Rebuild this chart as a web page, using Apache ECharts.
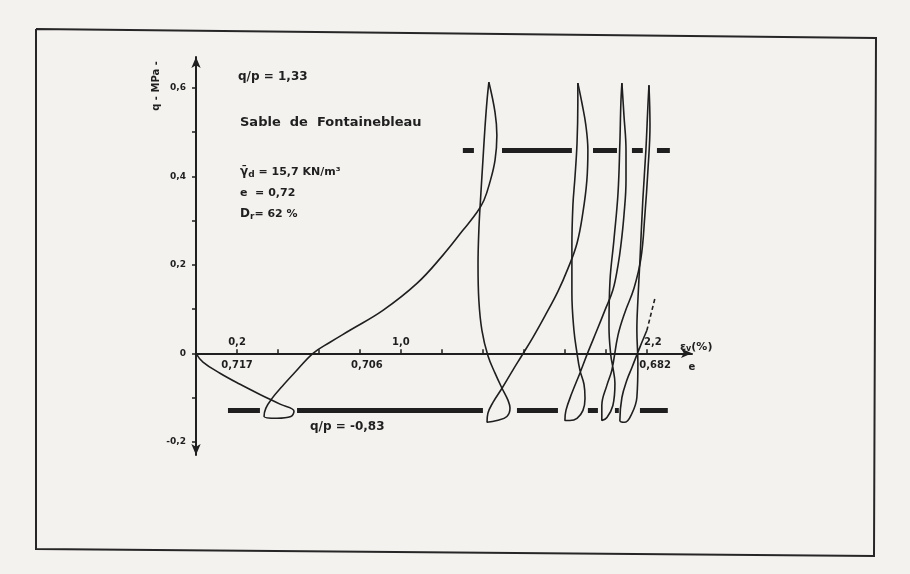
<!DOCTYPE html>
<html>
<head>
<meta charset="utf-8">
<script src="https://cdn.jsdelivr.net/npm/echarts@6/dist/echarts.min.js"></script>
<style>
  html, body { margin: 0; padding: 0; background: #f3f2ef; }
  #chart { width: 910px; height: 574px; }
</style>
</head>
<body>
<div id="chart"></div>
<script>
// Cyclic triaxial test on Fontainebleau sand: deviator stress q (MPa)
// against cumulative volumetric strain εv (%). Each branch runs from one
// compression peak to the next, through the extension trough in between.
const branch1 = [
  [0, 0], [0.034, -0.020], [0.117, -0.045], [0.215, -0.070], [0.312, -0.093],
  [0.410, -0.115], [0.478, -0.131], [0.463, -0.143], [0.395, -0.147], [0.332, -0.143],
  [0.341, -0.124], [0.371, -0.102], [0.420, -0.075], [0.483, -0.043], [0.571, 0.000],
  [0.654, 0.025], [0.751, 0.052], [0.912, 0.097], [1.078, 0.158], [1.205, 0.222],
  [1.302, 0.278], [1.371, 0.319], [1.405, 0.346], [1.434, 0.387], [1.459, 0.437],
  [1.468, 0.493], [1.459, 0.545], [1.429, 0.613]
];
const branch2 = [
  [1.429, 0.613], [1.420, 0.572], [1.410, 0.511], [1.400, 0.437], [1.390, 0.362],
  [1.380, 0.278], [1.376, 0.199], [1.380, 0.120], [1.395, 0.052], [1.424, -0.005],
  [1.459, -0.045], [1.493, -0.079], [1.522, -0.106], [1.532, -0.124], [1.517, -0.143],
  [1.468, -0.152], [1.420, -0.156], [1.424, -0.136], [1.449, -0.111], [1.493, -0.079],
  [1.546, -0.038], [1.590, -0.005], [1.644, 0.036], [1.702, 0.084], [1.766, 0.140],
  [1.815, 0.192], [1.859, 0.249], [1.888, 0.319], [1.907, 0.391], [1.912, 0.459],
  [1.902, 0.516], [1.883, 0.566], [1.863, 0.611]
];
const branch3 = [
  [1.863, 0.611], [1.863, 0.566], [1.859, 0.475], [1.849, 0.398], [1.839, 0.335],
  [1.834, 0.240], [1.834, 0.136], [1.844, 0.052], [1.859, 0.000], [1.873, -0.038],
  [1.893, -0.070], [1.898, -0.102], [1.888, -0.129], [1.859, -0.147], [1.824, -0.152],
  [1.800, -0.152], [1.805, -0.129], [1.834, -0.090], [1.873, -0.045], [1.912, 0.002],
  [1.956, 0.052], [1.995, 0.097], [2.034, 0.143], [2.059, 0.199], [2.073, 0.244],
  [2.088, 0.312], [2.098, 0.391], [2.098, 0.459], [2.088, 0.538], [2.078, 0.611]
];
const branch4 = [
  [2.078, 0.611], [2.073, 0.566], [2.068, 0.475], [2.059, 0.362], [2.039, 0.256],
  [2.020, 0.165], [2.015, 0.059], [2.024, -0.005], [2.034, -0.032], [2.044, -0.068],
  [2.034, -0.118], [2.005, -0.145], [1.980, -0.152], [1.980, -0.118], [2.005, -0.072],
  [2.029, -0.038], [2.059, 0.041], [2.093, 0.093], [2.137, 0.147], [2.171, 0.215],
  [2.190, 0.312], [2.205, 0.414], [2.215, 0.516], [2.210, 0.606]
];
const branch5 = [
  [2.210, 0.606], [2.205, 0.561], [2.195, 0.459], [2.180, 0.346], [2.166, 0.210],
  [2.156, 0.120], [2.151, 0.052], [2.156, -0.023], [2.151, -0.100], [2.127, -0.136],
  [2.093, -0.156], [2.068, -0.152], [2.078, -0.100], [2.102, -0.061], [2.127, -0.032],
  [2.166, 0.014], [2.200, 0.052]
];
// extrapolated continuation of the last branch
const extension = [[2.200, 0.052], [2.239, 0.124]];

// stress-ratio limits q/p = 1,33 and q/p = -0,83, interrupted where the loops cross
const upperLimitQ = 0.459;
const upperLimitSegments = [[1.302, 1.356], [1.493, 1.834], [1.937, 2.054], [2.127, 2.180], [2.249, 2.312]];
const lowerLimitQ = -0.129;
const lowerLimitSegments = [[0.156, 0.312], [0.493, 1.400], [1.566, 1.766], [1.912, 1.961], [2.044, 2.063], [2.166, 2.302]];

// axes
const qTicks = [-0.2, -0.1, 0, 0.1, 0.2, 0.3, 0.4, 0.5, 0.6];
const qLabelValues = [-0.2, 0, 0.2, 0.4, 0.6];
const qLabels = ['-0,2', '0', '0,2', '0,4', '0,6'];
const strainTicks = [0.2, 0.4, 0.6, 0.8, 1.0, 1.2, 1.4, 1.6, 1.8, 2.0, 2.2];
const strainLabelValues = [0.2, 1.0, 2.2];
const strainLabels = ['0,2', '1,0', '2,2'];
// void ratio e read along the same strain axis
const voidRatioValues = [0.2, 0.834, 2.24];
const voidRatioLabels = ['0,717', '0,706', '0,682'];
const voidRatioAxisEnd = 2.42;

const INK = '#1f1f1f';
const FONT = '"DejaVu Sans", sans-serif';

function pick(values, labels) {
  return function (v) {
    const i = values.findIndex(function (t) { return Math.abs(t - v) < 1e-6; });
    return i < 0 ? '' : labels[i];
  };
}

function curve(data, dashed) {
  return {
    type: 'line',
    data: data,
    smooth: 0.4,
    symbol: 'none',
    clip: false,
    silent: true,
    z: 4,
    lineStyle: { color: INK, width: 1.6, type: dashed ? [4, 3] : 'solid' }
  };
}

function limitLine(segments, q) {
  return {
    type: 'lines',
    coordinateSystem: 'cartesian2d',
    polyline: false,
    silent: true,
    z: 3,
    lineStyle: { color: INK, width: 5, opacity: 1, curveness: 0 },
    data: segments.map(function (s) { return { coords: [[s[0], q], [s[1], q]] }; })
  };
}

// tick texts written along the horizontal axis (strain above, void ratio below);
// the last strain figure sits just right of its tick, clear of the loops
function axisTexts(values, labels, position, distance, lastShift) {
  return {
    type: 'scatter',
    symbolSize: 0,
    silent: true,
    z: 5,
    itemStyle: { opacity: 1 },
    data: values.map(function (v, i) {
      const shift = (lastShift && i === values.length - 1) ? lastShift : 0;
      return { value: [v, 0], label: { formatter: labels[i], offset: [shift, 0] } };
    }),
    label: { show: true, position: position, distance: distance, opacity: 1,
             color: INK, fontSize: 10, fontWeight: 'bold', fontFamily: FONT }
  };
}

const chart = echarts.init(document.getElementById('chart'));
chart.setOption({
  backgroundColor: '#f3f2ef',
  animation: false,
  grid: { left: 196, right: 218, top: 57, bottom: 119 },
  xAxis: {
    type: 'value', min: 0, max: 2.42,
    splitLine: { show: false },
    axisLine: { onZero: true, symbol: ['none', 'arrow'], symbolSize: [7, 11],
                lineStyle: { color: INK, width: 2 } },
    axisTick: { show: true, inside: true, length: 4, customValues: strainTicks,
                lineStyle: { color: INK, width: 1.5 } },
    axisLabel: { show: false },
    name: '{e|ε}{s|v}{e|(%)}', nameLocation: 'end', nameGap: -12,
    nameTextStyle: {
      verticalAlign: 'bottom', padding: [0, 0, 0, 0],
      rich: {
        e: { fontSize: 11, fontWeight: 'bold', color: INK, fontFamily: FONT },
        s: { fontSize: 8, fontWeight: 'bold', color: INK, fontFamily: FONT, padding: [5, 0, 0, 0] }
      }
    }
  },
  yAxis: {
    type: 'value', min: -0.23, max: 0.67,
    splitLine: { show: false },
    axisLine: { symbol: ['arrow', 'arrow'], symbolSize: [7, 11],
                lineStyle: { color: INK, width: 2 } },
    axisTick: { show: true, length: 4, customValues: qTicks,
                lineStyle: { color: INK, width: 1.5 } },
    axisLabel: { margin: 10, customValues: qLabelValues,
                 formatter: pick(qLabelValues, qLabels),
                 color: INK, fontSize: 9, fontWeight: 'bold', fontFamily: FONT }
  },
  series: [
    limitLine(upperLimitSegments, upperLimitQ),
    limitLine(lowerLimitSegments, lowerLimitQ),
    curve(branch1), curve(branch2), curve(branch3), curve(branch4), curve(branch5),
    curve(extension, true),
    axisTexts(strainLabelValues, strainLabels, 'top', 6, 6),
    axisTexts(voidRatioValues, voidRatioLabels, 'bottom', 7),
    axisTexts([voidRatioAxisEnd], ['e'], 'bottom', 9)
  ],
  graphic: [
    { type: 'polyline', silent: true,
      shape: { points: [[36, 29], [876, 38], [874, 556], [36, 549], [36, 29]] },
      style: { stroke: '#262626', fill: null, lineWidth: 2 } },
    { type: 'text', x: 156, y: 86, rotation: Math.PI / 2,
      style: { text: 'q - MPa -', font: 'bold 10px ' + FONT, fill: INK,
               align: 'center', verticalAlign: 'middle' } },
    { type: 'text', x: 238, y: 77,
      style: { text: 'q/p = 1,33', font: 'bold 12px ' + FONT, fill: INK, verticalAlign: 'middle' } },
    { type: 'text', x: 240, y: 123,
      style: { text: 'Sable  de  Fontainebleau', font: 'bold 13px ' + FONT, fill: INK, verticalAlign: 'middle' } },
    { type: 'text', x: 240, y: 172,
      style: { text: '{g|γ̄}{s|d}{t| = 15,7 KN/m³}', verticalAlign: 'middle',
               rich: { g: { font: 'bold 12px ' + FONT, fill: INK },
                       s: { font: 'bold 9px ' + FONT, fill: INK, padding: [6, 0, 0, 0] },
                       t: { font: 'bold 11px ' + FONT, fill: INK } } } },
    { type: 'text', x: 240, y: 193,
      style: { text: 'e  = 0,72', font: 'bold 11px ' + FONT, fill: INK, verticalAlign: 'middle' } },
    { type: 'text', x: 240, y: 214,
      style: { text: '{d|D}{s|r}{t|= 62 %}', verticalAlign: 'middle',
               rich: { d: { font: 'bold 12px ' + FONT, fill: INK },
                       s: { font: 'bold 9px ' + FONT, fill: INK, padding: [5, 0, 0, 0] },
                       t: { font: 'bold 11px ' + FONT, fill: INK } } } },
    { type: 'text', x: 310, y: 427,
      style: { text: 'q/p = -0,83', font: 'bold 12px ' + FONT, fill: INK, verticalAlign: 'middle' } }
  ]
});
</script>
</body>
</html>
